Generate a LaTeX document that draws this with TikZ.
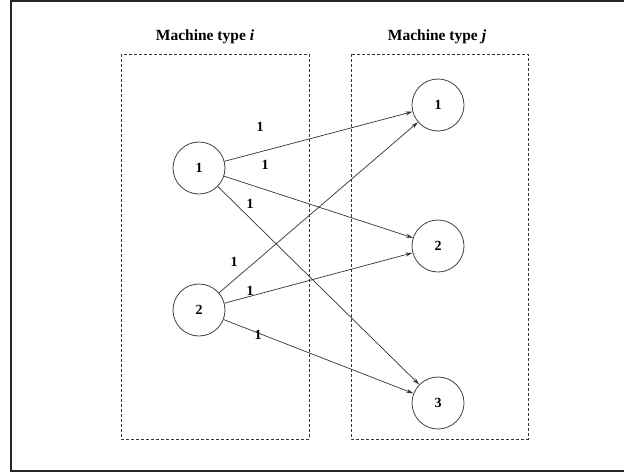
\documentclass[tikz,border=0pt]{standalone}
\usepackage{fontspec}
\setmainfont{Liberation Serif}
\usetikzlibrary{arrows.meta}
\begin{document}
\begin{tikzpicture}[x=1pt,y=-1pt,
  mnode/.style={circle,draw=black!75,line width=0.8pt,minimum size=52pt,inner sep=0pt,font=\fontsize{14}{16}\selectfont\bfseries},
  grp/.style={draw=black!80,dashed,line width=0.6pt,dash pattern=on 3pt off 2pt},
  edge/.style={draw=black!80,line width=0.7pt,-{Stealth[length=7pt,width=4pt]}},
  lbl/.style={font=\fontsize{14}{16}\selectfont\bfseries,inner sep=0pt},
  ttl/.style={font=\fontsize{15.5}{18}\selectfont\bfseries,inner sep=0pt}]
\useasboundingbox (0,0) rectangle (624,474);
\begin{scope}
\clip (0,0) rectangle (624,474);
\draw[line width=2pt,draw=black!85] (11,1) rectangle (640,471);
\end{scope}
\draw[grp] (121,54) rectangle (309,439);
\draw[grp] (351,54) rectangle (528,439);
\node[ttl] (ti) at (205,37) {Machine type \textit{i}};
\node[ttl] (tj) at (437,37) {Machine type \textit{j}};
\node[mnode] (a1) at (199,168) {1};
\node[mnode] (a2) at (199,310) {2};
\node[mnode] (b1) at (438,105) {1};
\node[mnode] (b2) at (438,246) {2};
\node[mnode] (b3) at (438,403) {3};
\draw[edge] (a1) -- (b1);
\draw[edge] (a1) -- (b2);
\draw[edge] (a1) -- (b3);
\draw[edge] (a2) -- (b1);
\draw[edge] (a2) -- (b2);
\draw[edge] (a2) -- (b3);
\node[lbl] (l1) at (260,127) {1};
\node[lbl] (l2) at (265,165) {1};
\node[lbl] (l3) at (250,204) {1};
\node[lbl] (l4) at (234,262) {1};
\node[lbl] (l5) at (250,291) {1};
\node[lbl] (l6) at (258,335) {1};
\end{tikzpicture}
\end{document}
